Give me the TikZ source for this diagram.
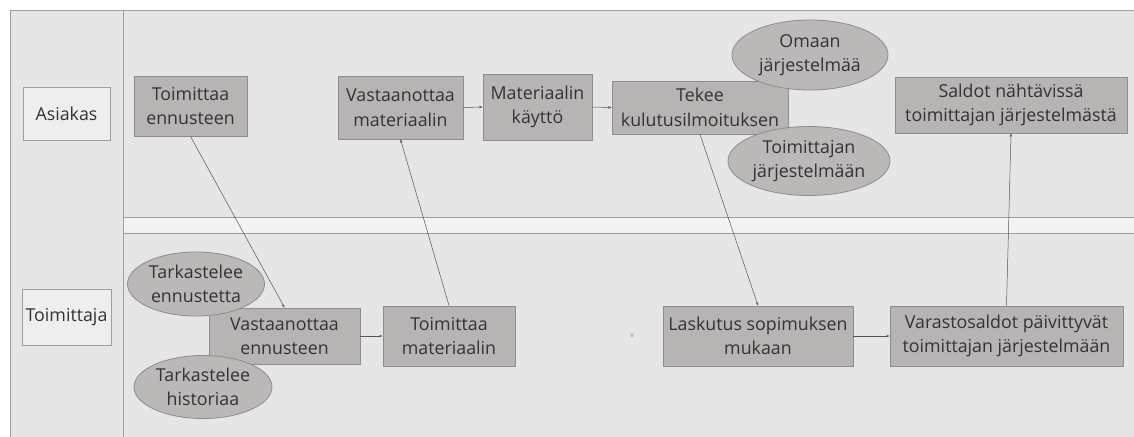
\documentclass[tikz,border=0pt]{standalone}
\usepackage{fontspec}
\setmainfont{Open Sans}
\usetikzlibrary{shapes.geometric,arrows.meta}
\definecolor{lanefill}{HTML}{E6E6E6}
\definecolor{gapfill}{HTML}{F3F3F3}
\definecolor{laneline}{HTML}{9E9E9E}
\definecolor{boxfill}{HTML}{B8B4B4}
\definecolor{boxline}{HTML}{8E8C8C}
\definecolor{txt}{HTML}{333333}
\definecolor{conn}{HTML}{555555}
\begin{document}
\begin{tikzpicture}[x=1pt,y=-1pt,
  every node/.style={text=txt,font=\fontsize{17.8}{24.5}\selectfont,align=center,inner sep=0pt},
  lanebox/.style={draw=laneline,fill=gapfill!60!lanefill,line width=0.8pt},
  actbox/.style={draw=boxline,fill=boxfill,line width=0.8pt,rectangle},
  note/.style={draw=boxline,fill=boxfill!95!white,line width=0.8pt,ellipse},
  flow/.style={draw=conn,line width=0.5pt,-{Stealth[length=3.5pt,width=2.5pt]}}]
\useasboundingbox (0,0) rectangle (1134,436);
\fill[white] (0,0) rectangle (1134,436);
\draw[laneline,fill=lanefill,line width=0.8pt] (10,10) rectangle (1140,446);
\draw[laneline,line width=0.8pt] (123,10) -- (123,446);
\draw[laneline,fill=gapfill,line width=0.8pt] (123,217) rectangle (1140,233);
\node[lanebox,minimum width=87pt,minimum height=53pt] (asiakas) at (66.5,113.5) {Asiakas};
\node[lanebox,minimum width=89pt,minimum height=56pt] (toimittaja) at (66.5,317) {Toimittaja};
\node[actbox,minimum width=113pt,minimum height=60pt] (te) at (190.5,106) {Toimittaa\\ennusteen};
\node[actbox,minimum width=125pt,minimum height=63pt] (vm) at (400.5,107.5) {Vastaanottaa\\materiaalin};
\node[actbox,minimum width=109pt,minimum height=66pt] (mk) at (537.5,107) {Materiaalin\\käyttö};
\node[actbox,minimum width=176pt,minimum height=53pt] (tk) at (700,107.5) {Tekee\\kulutusilmoituksen};
\node[note,minimum width=156pt,minimum height=70pt] (oj) at (810,55) {Omaan\\järjestelmää};
\node[note,minimum width=162pt,minimum height=69pt] (tj) at (809,161) {Toimittajan\\järjestelmään};
\node[actbox,minimum width=232pt,minimum height=56pt] (sn) at (1011,105) {Saldot nähtävissä\\toimittajan järjestelmästä};
\node[actbox,minimum width=151pt,minimum height=56pt] (ve) at (284.5,336) {Vastaanottaa\\ennusteen};
\node[note,minimum width=137pt,minimum height=64pt] (tee) at (196,284) {Tarkastelee\\ennustetta};
\node[note,minimum width=138pt,minimum height=63pt] (th) at (203,387) {Tarkastelee\\historiaa};
\node[actbox,minimum width=132pt,minimum height=60pt] (tm) at (449,336) {Toimittaa\\materiaalin};
\node[actbox,minimum width=190pt,minimum height=60pt] (ls) at (758,336) {Laskutus sopimuksen\\mukaan};
\node[actbox,minimum width=233pt,minimum height=60pt] (vp) at (1006.5,336) {Varastosaldot päivittyvät\\toimittajan järjestelmään};
\node[text=gray,font=\fontsize{7}{8}\selectfont] (v) at (632,336) {v};
\draw[flow] (te.south) -- (ve.north);
\draw[flow] (tm.north) -- (vm.south);
\draw[flow] (vm.east) -- (mk.west);
\draw[flow] (mk.east) -- (tk.west);
\draw[flow] (tk.south) -- (ls.north);
\draw[flow] (ve.east) -- (tm.west);
\draw[flow] (ls.east) -- (vp.west);
\draw[flow] (vp.north) -- (sn.south);
\end{tikzpicture}
\end{document}
